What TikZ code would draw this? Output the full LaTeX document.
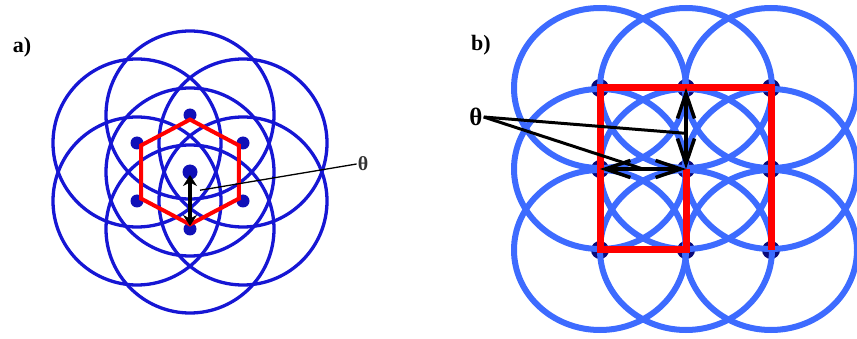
\documentclass[tikz,border=0pt]{standalone}
\usepackage{fontspec}
\setmainfont{Liberation Serif}
\usetikzlibrary{arrows.meta,calc}
\definecolor{ringa}{HTML}{1616D4}
\definecolor{ringb}{HTML}{3D6BFF}
\definecolor{sitea}{HTML}{1010B8}
\definecolor{siteb}{HTML}{0A0A7A}
\definecolor{cell}{HTML}{FF0000}

\begin{document}
\begin{tikzpicture}[x=1pt, y=-1pt,
  ringA/.style={draw=ringa, line width=3.3pt},
  ringB/.style={draw=ringb, line width=6pt},
  dotA/.style={fill=sitea},
  dotB/.style={fill=siteb},
  cellA/.style={draw=cell, line width=4pt, line join=miter},
  cellB/.style={draw=cell, line width=7pt, line join=miter},
  vecA/.style={{Stealth[length=11pt,width=14pt]}-{Stealth[length=11pt,width=14pt]}, line width=3.5pt, shorten <=3pt, shorten >=3pt},
  vecB/.style={{Straight Barb[length=25pt,width=17pt]}-{Straight Barb[length=25pt,width=17pt]}, line width=3.5pt},
  lead/.style={draw=black},
  panel/.style={font=\fontsize{22}{24}\selectfont\bfseries, inner sep=0pt},
  ang/.style={inner sep=1pt}]
  \useasboundingbox (0,0) rectangle (857,339);

  % a) hexagonal cell
  \coordinate (a0) at (190,172);
  \foreach \i/\dx/\dy in {1/0/-57, 2/53/-29, 3/53/29, 4/0/57, 5/-53/29, 6/-53/-29}
    \coordinate (a\i) at ($(a0)+(\dx,\dy)$);
  \foreach \i in {0,...,6}
    \draw[ringA] (a\i) circle[radius=84];
  \foreach \i in {1,...,6}
    \fill[dotA] (a\i) circle[radius=6.5];
  \fill[dotA] (a0) circle[radius=7.5];
  \draw[cellA] ($(a0)!0.92!(a1)$) \foreach \i in {2,...,6}{ -- ($(a0)!0.92!(a\i)$)} -- cycle;
  \draw[vecA] (a0) -- (a4);
  \node[ang, font=\fontsize{20}{22}\selectfont\bfseries, text=black!80] (tha) at (363,164) {θ};
  \coordinate (pa) at ($($(a0)!0.32!(a4)$)+(10,0)$);
  \draw[lead, line width=1.3pt] (tha.west) -- (pa);
  \node[panel] (la) at (22,47) {a)};

  % b) square cell
  \foreach \c/\x in {1/600, 2/686, 3/771}
    \foreach \r/\y in {1/88, 2/169, 3/250}
      \coordinate (b\c\r) at (\x,\y);
  \foreach \c in {1,2,3}
    \foreach \r in {1,2,3}
      \fill[dotB] (b\c\r) circle[radius=9];
  \foreach \c in {1,2,3}
    \foreach \r in {1,2,3}
      \draw[ringB] (b\c\r) ellipse[x radius=86, y radius=80];
  \draw[cellB] (b22) -- (b23) -- (b13) -- (b11) -- (b31) -- (b33);
  \draw[vecB] (b22) -- (b21);
  \draw[vecB] (b22) -- (b12);
  \node[ang, font=\fontsize{25}{27}\selectfont\bfseries] (thb) at (476,117) {θ};
  \coordinate (pb1) at ($(b22)!0.44!(b21)$);
  \coordinate (pb2) at ($(b22)!0.5!(b12)$);
  \draw[lead, line width=3pt] (thb.east) -- (pb1);
  \draw[lead, line width=3pt] (thb.east) -- (pb2);
  \node[panel] (lb) at (481,45) {b)};
\end{tikzpicture}
\end{document}
